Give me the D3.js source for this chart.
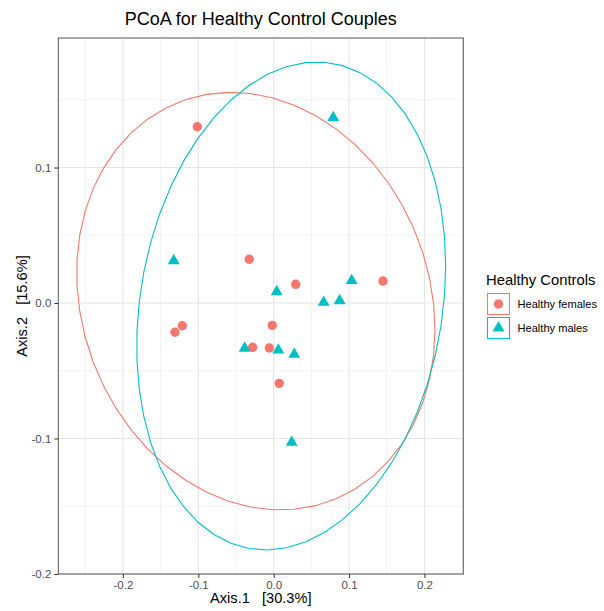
<!DOCTYPE html>
<html><head><meta charset="utf-8">
<script src="https://cdn.jsdelivr.net/npm/d3@7"></script>
<style>body{margin:0;background:#fff}svg{display:block}text{font-family:"Liberation Sans",Arial,sans-serif}</style>
</head><body><div id="chart"></div>
<script>
// ---- data ----
const groups = ["Healthy females", "Healthy males"];
const femalesX = [-0.1013, -0.0324, 0.0292, 0.1450, -0.0019, -0.1212, -0.1309, -0.0279, -0.0058, 0.0074];
const femalesY = [0.1301, 0.0323, 0.0138, 0.0162, -0.0165, -0.0168, -0.0216, -0.0327, -0.0332, -0.0593];
const malesX = [0.0790, -0.1326, 0.0040, 0.1034, 0.0663, 0.0875, -0.0385, 0.0061, 0.0273, 0.0239];
const malesY = [0.1368, 0.0312, 0.0083, 0.0165, 0.0005, 0.0017, -0.0334, -0.0347, -0.0379, -0.1028];
// 95% ellipses: centre, half extents along each axis, correlation
const ellipseCX = [-0.0237, 0.0232];
const ellipseCY = [0.0014, -0.0022];
const ellipseHX = [0.2376, 0.2049];
const ellipseHY = [0.1541, 0.1801];
const ellipseRho = [-0.136, 0.1645];
const xTicks = [-0.2, -0.1, 0.0, 0.1, 0.2];
const xTickLabels = ["-0.2", "-0.1", "0.0", "0.1", "0.2"];
const yTicks = [-0.2, -0.1, 0.0, 0.1];
const yTickLabels = ["-0.2", "-0.1", "0.0", "0.1"];
const xMinor = [-0.25, -0.15, -0.05, 0.05, 0.15, 0.25];
const yMinor = [-0.15, -0.05, 0.05, 0.15];
const colors = ["#F8766D", "#00BFC4"];

const W = 604, H = 611;
const P = {left: 58.3, right: 463.3, top: 38, bottom: 574};
const x = d3.scaleLinear().domain([-0.2857, 0.2515]).range([P.left, P.right]);
const y = d3.scaleLinear().domain([-0.2, 0.1956]).range([P.bottom, P.top]);

const svg = d3.select("#chart").append("svg").attr("width", W).attr("height", H);
svg.append("rect").attr("width", W).attr("height", H).attr("fill", "#fff");

// grid
const g = svg.append("g");
g.selectAll(".xm").data(xMinor.filter(v => x(v) > P.left && x(v) < P.right)).join("line")
  .attr("x1", d => x(d)).attr("x2", d => x(d)).attr("y1", P.top).attr("y2", P.bottom)
  .attr("stroke", "#ebebeb").attr("stroke-width", 0.6);
g.selectAll(".ym").data(yMinor.filter(v => y(v) > P.top && y(v) < P.bottom)).join("line")
  .attr("y1", d => y(d)).attr("y2", d => y(d)).attr("x1", P.left).attr("x2", P.right)
  .attr("stroke", "#ebebeb").attr("stroke-width", 0.6);
g.selectAll(".xM").data(xTicks).join("line")
  .attr("x1", d => x(d)).attr("x2", d => x(d)).attr("y1", P.top).attr("y2", P.bottom)
  .attr("stroke", "#e5e5e5").attr("stroke-width", 1.1);
g.selectAll(".yM").data(yTicks).join("line")
  .attr("y1", d => y(d)).attr("y2", d => y(d)).attr("x1", P.left).attr("x2", P.right)
  .attr("stroke", "#e5e5e5").attr("stroke-width", 1.1);

// ellipses
function ellipsePts(i) {
  const a = ellipseHX[i], b = ellipseRho[i] * ellipseHY[i];
  const c = ellipseHY[i] * Math.sqrt(1 - ellipseRho[i] * ellipseRho[i]);
  const pts = [];
  for (let k = 0; k <= 51; k++) {
    const t = k * 2 * Math.PI / 51, co = Math.cos(t), si = Math.sin(t);
    pts.push([ellipseCX[i] + co * a, ellipseCY[i] + co * b + si * c]);
  }
  return pts;
}
const line = d3.line().x(d => x(d[0])).y(d => y(d[1]));
svg.append("clipPath").attr("id", "pc").append("rect")
  .attr("x", P.left).attr("y", P.top).attr("width", P.right - P.left).attr("height", P.bottom - P.top);
const plot = svg.append("g").attr("clip-path", "url(#pc)");
groups.forEach((s, i) => {
  plot.append("path").attr("d", line(ellipsePts(i))).attr("fill", "none")
    .attr("stroke", colors[i]).attr("stroke-width", 1.1);
});
// points
plot.selectAll(".f").data(femalesX.map((v, i) => [v, femalesY[i]])).join("circle")
  .attr("cx", d => x(d[0])).attr("cy", d => y(d[1])).attr("r", 4.7).attr("fill", colors[0]);
const tri = d3.symbol().type(d3.symbolTriangle).size(62);
plot.selectAll(".m").data(malesX.map((v, i) => [v, malesY[i]])).join("path")
  .attr("d", tri).attr("transform", d => `translate(${x(d[0])},${y(d[1])})`).attr("fill", colors[1]);

// border
svg.append("rect").attr("x", P.left).attr("y", P.top).attr("width", P.right - P.left).attr("height", P.bottom - P.top)
  .attr("fill", "none").attr("stroke", "#555").attr("stroke-width", 1);

// axes
const xa = svg.append("g").attr("transform", `translate(0,${P.bottom})`)
  .call(d3.axisBottom(x).tickValues(xTicks).tickFormat((d, i) => xTickLabels[i]).tickSize(4).tickPadding(3));
const ya = svg.append("g").attr("transform", `translate(${P.left},0)`)
  .call(d3.axisLeft(y).tickValues(yTicks).tickFormat((d, i) => yTickLabels[i]).tickSize(4).tickPadding(3));
[xa, ya].forEach(a => {
  a.select(".domain").remove();
  a.selectAll(".tick line").attr("stroke", "#333").attr("stroke-width", 1);
  a.selectAll(".tick text").attr("fill", "#4d4d4d").attr("font-size", 11.5)
    .style("font-family", '"Liberation Sans",Arial,sans-serif');
});

// titles
svg.append("text").attr("x", (P.left + P.right) / 2).attr("y", 25).attr("text-anchor", "middle")
  .attr("font-size", 18).attr("fill", "#000").text("PCoA for Healthy Control Couples");
svg.append("text").attr("x", (P.left + P.right) / 2).attr("y", 603).attr("text-anchor", "middle")
  .attr("font-size", 14.6).attr("fill", "#000").attr("xml:space", "preserve").text("Axis.1   [30.3%]");
svg.append("text").attr("transform", `translate(27,${(P.top + P.bottom) / 2}) rotate(-90)`).attr("text-anchor", "middle")
  .attr("font-size", 14.6).attr("fill", "#000").attr("xml:space", "preserve").text("Axis.2   [15.6%]");

// legend
const lg = svg.append("g");
lg.append("text").attr("x", 486).attr("y", 285).attr("font-size", 14.8).text("Healthy Controls");
groups.forEach((name, i) => {
  const ky = 293 + i * 24;
  lg.append("rect").attr("x", 487.5).attr("y", ky + 0.5).attr("width", 22).attr("height", 21)
    .attr("fill", "#fff").attr("stroke", colors[i]).attr("stroke-width", 1.1);
  if (i === 0) lg.append("circle").attr("cx", 498.5).attr("cy", ky + 11).attr("r", 4.7).attr("fill", colors[0]);
  else lg.append("path").attr("d", tri).attr("transform", `translate(498.5,${ky + 11})`).attr("fill", colors[1]);
  lg.append("text").attr("x", 517.5).attr("y", ky + 11).attr("dy", "0.35em").attr("font-size", 11.1).text(name);
});
</script></body></html>
